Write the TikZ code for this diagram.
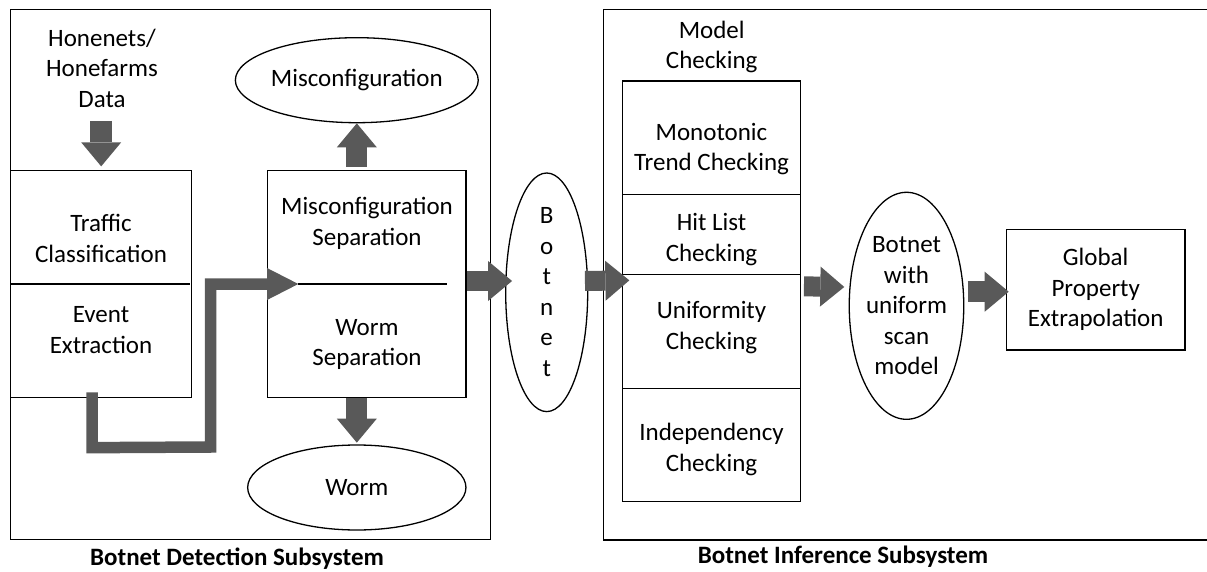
\documentclass[tikz,border=0pt]{standalone}
\usepackage{fontspec}
\setmainfont{Carlito}
\usetikzlibrary{arrows.meta,shapes.geometric}
\definecolor{arrowgray}{HTML}{595959}
\begin{document}
\begin{tikzpicture}[x=1pt,y=-1pt,
  lbl/.style={font=\fontsize{25}{30.5}\selectfont, align=center, inner sep=0pt},
  boldlbl/.style={font=\fontsize{25}{30.5}\selectfont\bfseries, align=center, inner sep=0pt},
  boxline/.style={draw=black, line width=1.3pt},
  rectbox/.style={boxline, rectangle, inner sep=0pt, font=\fontsize{25}{30.5}\selectfont, align=center},
  ellbox/.style={boxline, ellipse, inner sep=0pt, font=\fontsize{25}{30.5}\selectfont, align=center},
  blk/.style={draw=arrowgray, line width=20pt, -{Triangle[length=24pt,width=40pt,line width=0pt]}},
  elbow/.style={draw=arrowgray, line width=11.5pt, line join=miter, -{Triangle[length=31.3pt,width=32pt,line width=0pt]}},
]
\useasboundingbox (0,0) rectangle (1207,572);

% frames
\node[rectbox, minimum width=480pt, minimum height=530pt] (fl) at (250.7,274.3) {};
\draw[boxline] (1208,9.5) -- (603.3,9.5) -- (603.3,540) -- (1208,540);

% detection subsystem
\node[lbl] (honey) at (102,68) {Honenets/\\Honefarms\\Data};
\node[rectbox, minimum width=181pt, minimum height=226.6pt] (tc) at (101.2,284) {};
\node[lbl] (tctext) at (101,238.3) {Traffic\\Classification};
\node[lbl] (eetext) at (101,330) {Event\\Extraction};
\draw[boxline] (tc.west) -- ([xshift=-2.7pt]tc.east);

\node[rectbox, minimum width=198.3pt, minimum height=226.6pt] (ms) at (366.85,284) {};
\node[lbl] (mstext) at (367,223.3) {Misconfiguration\\Separation};
\node[lbl] (wstext) at (367,344.7) {Worm\\Separation};
\draw[boxline] ([xshift=31.3pt]ms.west) -- ([xshift=-19.3pt]ms.east);

\node[ellbox, minimum width=218.3pt, minimum height=85pt] (mis) at (356.8,80.2) {Misconfiguration};
\node[ellbox, minimum width=218.3pt, minimum height=85pt] (worm) at (356.8,487.5) {Worm};

\node[ellbox, minimum width=82pt, minimum height=192.7pt] (bot) at (546.7,292.3) {B\\o\\t\\n\\e\\t};

% inference subsystem
\node[lbl] (mctext) at (711.7,47) {Model\\Checking};
\node[rectbox, minimum width=178.4pt, minimum height=113.7pt] (mono) at (711.5,137.85) {};
\node[rectbox, minimum width=178.4pt, minimum height=79.6pt] (hit) at (711.5,234.5) {};
\node[rectbox, minimum width=178.4pt, minimum height=114.2pt] (uni) at (711.5,331.4) {};
\node[rectbox, minimum width=178.4pt, minimum height=113.2pt] (ind) at (711.5,445.1) {};
\node[lbl] (monotext) at (711.5,149) {Monotonic\\Trend Checking};
\node[lbl] (hittext) at (711.5,239.5) {Hit List\\Checking};
\node[lbl] (unitext) at (711.5,327.5) {Uniformity\\Checking};
\node[lbl] (indtext) at (711.5,449.5) {Independency\\Checking};

\node[ellbox, minimum width=106pt, minimum height=227pt] (bwu) at (906.5,305.8) {Botnet\\with\\uniform\\scan\\model};
\node[rectbox, minimum width=178.7pt, minimum height=120.7pt] (glob) at (1095.7,289.7) {Global\\Property\\Extrapolation};

% captions
\node[boldlbl] (capL) at (237,559) {Botnet Detection Subsystem};
\node[boldlbl] (capR) at (843,557) {Botnet Inference Subsystem};

% arrows
\coordinate (hin) at (101.2,121);
\draw[blk, line width=22pt] (hin) -- ([yshift=3.7pt]tc.north);
\coordinate (mup) at (356.8,166.7);
\draw[blk, line width=21pt] (mup) -- (mis.south);
\coordinate (mdn) at (356.8,398);
\draw[blk, line width=21pt] (mdn) -- ([yshift=1.7pt]worm.north);

\draw[blk] ([yshift=3pt]ms.east) -- ([xshift=7pt,yshift=11.3pt]bot.west);
\draw[blk] ([xshift=-3.4pt,yshift=11.3pt]bot.east) -- ([xshift=7.7pt,yshift=-6.7pt]uni.north west);
\draw[blk] ([xshift=2.6pt,yshift=-12.7pt]uni.north east) -- ([xshift=-4.3pt,yshift=18.8pt]bwu.west);
\draw[blk, line width=21pt] ([xshift=3.2pt,yshift=14.1pt]bwu.east) -- ([xshift=3pt,yshift=-2pt]glob.west);

\draw[elbow] ([xshift=-9.2pt,yshift=5.6pt]tc.south) -- ++(0,55.3) -- (210.5,447) -- (210.5,284) -- ([xshift=31.3pt]ms.west);
\end{tikzpicture}
\end{document}
